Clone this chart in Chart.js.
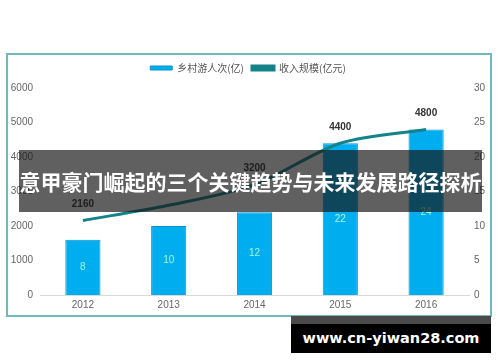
<!DOCTYPE html>
<html>
<head>
<meta charset="utf-8">
<script src="https://cdn.jsdelivr.net/npm/chart.js@4.4.1/dist/chart.umd.min.js"></script>
<style>
  body { margin: 0; background: #fff; width: 500px; height: 362px; position: relative; overflow: hidden; font-family: "Noto Sans CJK SC", "Noto Sans", sans-serif; }
  #box { position: absolute; left: 6px; top: 53px; width: 482px; height: 260px; border: 2px solid #6fb8bc; }
  #box canvas { display: block; }
  #banner { position: absolute; left: 19px; top: 150px; width: 463px; height: 62px; background: rgba(20, 20, 20, 0.68); color: #fff; font-weight: bold; font-size: 21px; line-height: 62px; text-align: center; white-space: nowrap; overflow: hidden; }
  #mark { position: absolute; left: 291px; top: 316px; width: 200px; height: 37px; background: #000; border-top: 8px solid #4a4a4a; box-sizing: border-box; color: #fff; font-family: "DejaVu Sans", sans-serif; font-weight: bold; font-size: 14.5px; line-height: 28px; text-align: center; white-space: nowrap; }
</style>
</head>
<body>
<div id="box"><canvas id="combo-chart" width="482" height="260"></canvas></div>
<div id="banner">意甲豪门崛起的三个关键趋势与未来发展路径探析</div>
<div id="mark">www.cn-yiwan28.com</div>
<script>
// data
const years = ["2012", "2013", "2014", "2015", "2016"];
const visitors = [8, 10, 12, 22, 24];          // 乡村游人次(亿)
const revenue = [2160, 2600, 3200, 4400, 4800]; // 收入规模(亿元)
const revenueLabels = ["2160", "", "3200", "4400", "4800"];

const tickFont = { size: 10, family: "'Liberation Sans', sans-serif" };

// plugin kecil untuk label data
const valueLabels = {
  id: "valueLabels",
  afterDatasetsDraw(chart) {
    const ctx = chart.ctx;
    ctx.save();
    ctx.textAlign = "center";
    ctx.textBaseline = "middle";

    // label batang, di tengah batang
    const barMeta = chart.getDatasetMeta(0);
    ctx.font = "10px 'Liberation Sans', sans-serif";
    ctx.fillStyle = "#a6f5d6";
    barMeta.data.forEach((bar, i) => {
      ctx.fillText(visitors[i], bar.x, (bar.y + bar.base) / 2);
    });

    // label garis, di atas titik
    const lineMeta = chart.getDatasetMeta(1);
    ctx.font = "bold 10px 'Liberation Sans', sans-serif";
    ctx.fillStyle = "#333";
    lineMeta.data.forEach((pt, i) => {
      if (revenueLabels[i]) ctx.fillText(revenueLabels[i], pt.x, pt.y - 16);
    });
    ctx.restore();
  },
};

// jarak tambahan di bawah legenda
const legendGap = {
  id: "legendGap",
  beforeInit(chart) {
    const fit = chart.legend.fit;
    chart.legend.fit = function () {
      fit.bind(chart.legend)();
      this.height += 5;
    };
  },
};

const ctx = document.getElementById("combo-chart").getContext("2d");
new Chart(ctx, {
  data: {
    labels: years,
    datasets: [
      {
        type: "bar",
        label: "乡村游人次(亿)",
        data: visitors,
        yAxisID: "y1",
        backgroundColor: "#00aeef",
        borderColor: "#0895c9",
        borderWidth: 1,
        barPercentage: 0.41,
        categoryPercentage: 1,
        order: 2,
      },
      {
        type: "line",
        label: "收入规模(亿元)",
        data: revenue,
        yAxisID: "y",
        borderColor: "#138289",
        backgroundColor: "#138289",
        borderWidth: 3,
        pointRadius: 0,
        tension: 0.3,
        order: 1,
      },
    ],
  },
  options: {
    responsive: false,
    animation: false,
    layout: { padding: { left: 2, right: 4, top: 0, bottom: 4 } },
    plugins: {
      legend: {
        display: true,
        position: "top",
        labels: {
          boxWidth: 22,
          boxHeight: 4,
          color: "#555",
          font: { size: 10, family: "'Noto Sans CJK SC', sans-serif" },
          padding: 8,
          sort: (a, b) => a.datasetIndex - b.datasetIndex,
        },
      },
      tooltip: { enabled: false },
    },
    scales: {
      x: {
        grid: { display: false, drawTicks: false },
        border: { display: true, color: "#d9d9d9" },
        ticks: { color: "#666", padding: 4, font: tickFont },
        afterFit: (scale) => { scale.height = 16; },
      },
      y: {
        position: "left",
        min: 0,
        max: 6000,
        ticks: { stepSize: 1000, color: "#666", padding: 7, font: tickFont, callback: (v) => String(v) },
        grid: { display: false, drawTicks: false },
        border: { display: false },
        afterFit: (scale) => { scale.width = 30; },
      },
      y1: {
        position: "right",
        min: 0,
        max: 30,
        ticks: { stepSize: 5, color: "#666", padding: 5, font: tickFont, callback: (v) => String(v) },
        grid: { display: false, drawTicks: false },
        border: { display: false },
        afterFit: (scale) => { scale.width = 17; },
      },
    },
  },
  plugins: [valueLabels, legendGap],
});
</script>
</body>
</html>
